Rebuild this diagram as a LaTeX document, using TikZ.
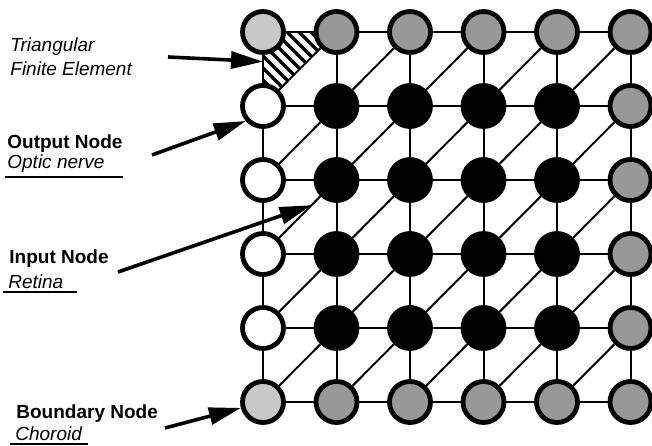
\documentclass[tikz,border=0pt]{standalone}
\usepackage{fontspec}
\setmainfont{Liberation Sans}
\usetikzlibrary{arrows.meta,calc,backgrounds}
\definecolor{stipple}{HTML}{989898}
\definecolor{pale}{HTML}{C8C8C8}
\tikzset{
  fem/.style={circle,draw=black,line width=2.4pt,minimum size=20.5pt,inner sep=0pt},
  bnode/.style={fem,fill=stipple},
  cnode/.style={fem,fill=pale},
  onode/.style={fem,fill=white},
  inode/.style={fem,fill=black},
  mesh/.style={line width=1pt},
  hatch/.style={line width=1.7pt},
  ptr/.style={-{Triangle[length=16pt,width=8.5pt]},line width=1.8pt},
  tag/.style={font=\fontsize{9.5}{11}\selectfont\bfseries,anchor=base west,inner sep=0pt},
  sub/.style={font=\fontsize{9.5}{11}\selectfont\itshape,anchor=base west,inner sep=0pt},
  ulin/.style={line width=1pt},
}

\begin{document}
\begin{tikzpicture}[x=0.5pt,y=-0.5pt]
  \useasboundingbox (0,0) rectangle (652,445);
  % mesh nodes: n-<column>-<row>
  \foreach \i in {1,...,4}
    \foreach \j in {1,...,4}
      \node[inode] (n-\i-\j) at (263+73.5*\i,32+74*\j) {};
  \foreach \j in {1,...,4}
    \node[onode] (n-0-\j) at (263,32+74*\j) {};
  \foreach \j in {0,5}
    \node[cnode] (n-0-\j) at (263,32+74*\j) {};
  \foreach \i in {1,...,5} {
    \node[bnode] (n-\i-0) at (263+73.5*\i,32) {};
    \node[bnode] (n-\i-5) at (263+73.5*\i,402) {};
  }
  \foreach \j in {1,...,4}
    \node[bnode] (n-5-\j) at (630.5,32+74*\j) {};
  % element edges: right, down and the diagonal of each cell
  \foreach \i in {0,...,4} {
    \foreach \j in {0,...,4} {
      \pgfmathtruncatemacro\inext{\i+1}
      \pgfmathtruncatemacro\jnext{\j+1}
      \draw[mesh] (n-\i-\j) -- (n-\inext-\j);
      \draw[mesh] (n-\i-\j) -- (n-\i-\jnext);
      \draw[mesh] (n-\i-\jnext) -- (n-\inext-\j);
    }
  }
  \foreach \k in {0,...,4} {
    \pgfmathtruncatemacro\knext{\k+1}
    \draw[mesh] (n-\k-5) -- (n-\knext-5);
    \draw[mesh] (n-5-\k) -- (n-5-\knext);
  }
  % hatched triangle
  \begin{scope}[on background layer]
    \clip (n-0-0.center) -- (n-1-0.center) -- (n-0-1.center) -- cycle;
    \foreach \c in {-96,-84,...,96}
      \draw[hatch] ([xshift=\c*0.5pt]n-0-0.center) ++(-90,-90) -- ++(180,180);
  \end{scope}
  % labels
  \node[sub] (tri) at (10,51) {Triangular};
  \node[sub] (fin) at (10,75) {Finite Element};
  \node[tag] (out) at (7,148) {Output Node};
  \node[sub] (opt) at (7,168) {Optic nerve};
  \node[tag] (inp) at (9,263) {Input Node};
  \node[sub] (ret) at (8,288) {Retina};
  \node[tag] (bnd) at (16,418) {Boundary Node};
  \node[sub] (cho) at (15,440) {Choroid};
  \draw[ulin] ([shift={(-2,9)}]opt.base west) -- ++(118,0);
  \draw[ulin] ([shift={(-5,4)}]ret.base west) -- ++(74,0);
  \draw[ulin] ([shift={(-5,3.5)}]cho.base west) -- ++(78,0);
  % pointers
  \coordinate (elem) at ($(n-0-0)!0.4!(n-0-1)$);
  \coordinate (elemtail) at (168,57);
  \draw[ptr] (elemtail) -- (elem);
  \coordinate (outtail) at (152,155);
  \draw[ptr] (outtail) -- (n-0-1.221);
  \coordinate (inptail) at (118,272);
  \coordinate (inphit) at ($(n-0-3)!0.66!(n-1-2)$);
  \draw[ptr] (inptail) -- (inphit);
  \coordinate (bndtail) at (165,428);
  \draw[ptr] (bndtail) -- (n-0-5.195);
\end{tikzpicture}
\end{document}
